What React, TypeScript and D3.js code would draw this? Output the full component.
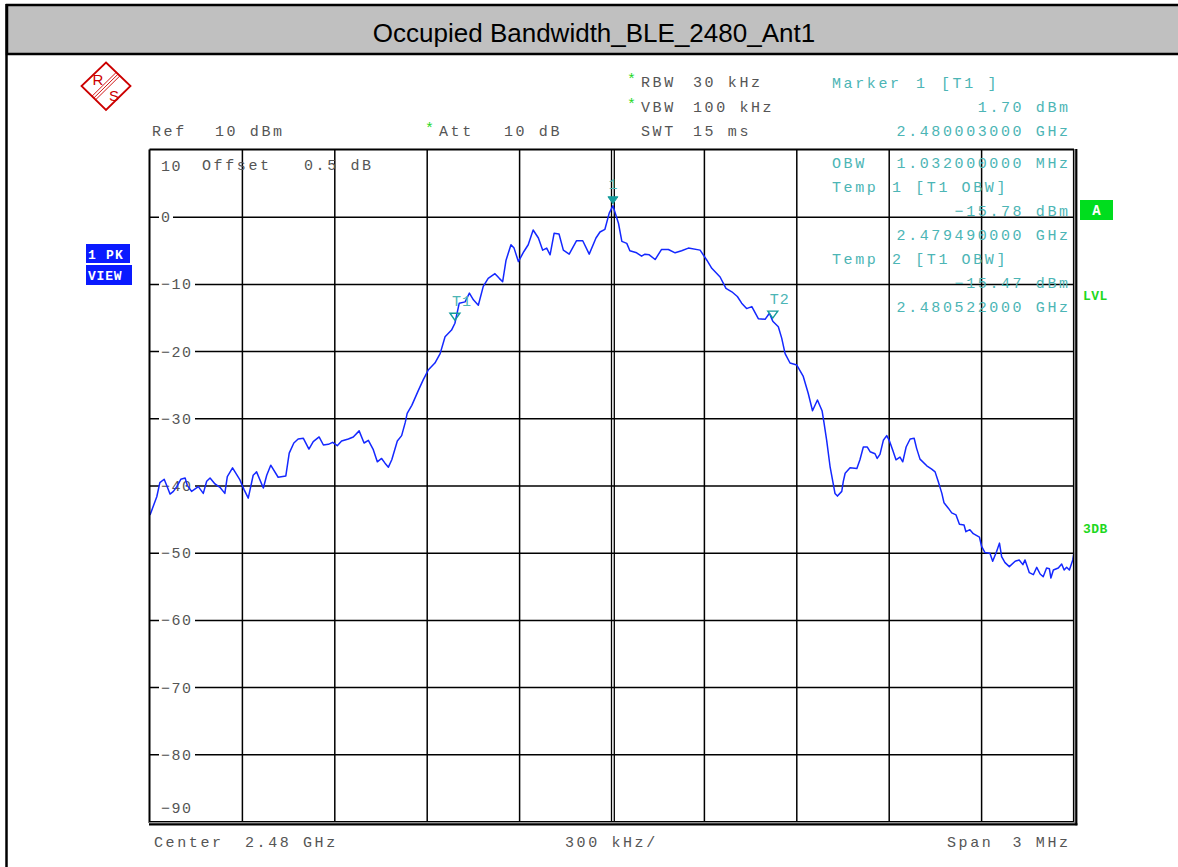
import React from 'react';
import * as d3 from 'd3';

// trace: offset from centre in kHz, level in dBm
const FREQ_KHZ = [
  -1500, -1495, -1478, -1468, -1454, -1446, -1435, -1424, -1413, -1400, -1386, -1379, -1365, -1343,
  -1327, -1316, -1305, -1289, -1273, -1257, -1249, -1232, -1208, -1195, -1181, -1165, -1154, -1132,
  -1121, -1108, -1084, -1059, -1048, -1033, -1019, -1002, -984, -970, -951, -937, -921, -907, -892,
  -878, -856, -840, -821, -805, -791, -775, -762, -748, -737, -726, -715, -697, -683, -671, -665,
  -650, -629, -613, -596, -575, -558, -542, -521, -510, -496, -477, -463, -450, -434, -418, -402,
  -380, -366, -355, -344, -328, -318, -304, -286, -272, -256, -239, -225, -212, -201, -188, -172,
  -158, -139, -115, -95, -74, -52, -39, -23, -9, 3, 21, 32, 48, 58, 80, 96, 107, 121, 140, 161, 183,
  205, 226, 248, 286, 308, 324, 351, 370, 389, 407, 421, 437, 454, 475, 497, 511, 522, 540, 551, 562,
  578, 600, 621, 637, 651, 667, 682, 688, 697, 708, 724, 732, 746, 751, 757, 773, 795, 805, 816, 829,
  838, 854, 861, 870, 881, 892, 900, 911, 922, 935, 944, 955, 968, 981, 989, 1000, 1022, 1038, 1049,
  1059, 1071, 1078, 1092, 1103, 1117, 1128, 1143, 1149, 1162, 1173, 1193, 1200, 1211, 1227, 1236,
  1249, 1258, 1265, 1276, 1290, 1309, 1322, 1334, 1341, 1355, 1368, 1379, 1390, 1400, 1411, 1420,
  1425, 1433, 1449, 1460, 1468, 1476, 1485, 1496, 1500,
];
const LEVEL_DBM = [
  -44.3, -43.7, -41.6, -39.5, -39.0, -39.9, -41.2, -40.8, -40.1, -39.0, -38.8, -39.9, -40.8, -40.1,
  -41.1, -39.3, -38.8, -39.7, -40.2, -41.1, -38.6, -37.3, -39.1, -40.5, -41.8, -38.4, -37.9, -40.3,
  -38.4, -36.9, -38.7, -38.5, -35.1, -33.6, -33.0, -32.9, -34.5, -33.4, -32.7, -33.9, -33.8, -33.5, -34.0,
  -33.3, -33.0, -32.7, -31.8, -33.6, -33.2, -34.6, -36.4, -35.9, -36.6, -37.2, -36.1, -33.3, -32.5, -30.5, -29.2,
  -28.0, -25.8, -24.2, -22.7, -21.7, -20.3, -17.8, -16.8, -15.78, -12.8, -12.6, -11.3, -12.3, -13.1, -10.3, -9.1,
  -8.4, -9.1, -9.6, -6.4, -4.1, -4.6, -6.6, -5.1, -4.1, -1.9, -3.1, -4.9, -4.6, -5.6, -2.4, -2.5,
  -4.9, -5.5, -3.5, -3.5, -5.5, -3.1, -2.2, -1.8, 0.6, 1.7, -0.9, -3.6, -3.9, -5.0, -5.3, -5.8, -5.5, -5.6, -6.3, -4.8, -4.8,
  -5.3, -5.0, -4.6, -4.9, -6.4, -7.6, -8.9, -10.6, -11.1, -11.8, -12.8, -13.6, -13.3, -15.1, -15.2, -14.3, -15.47, -16.3, -18.0, -20.3,
  -21.7, -22.0, -23.7, -26.2, -28.8, -27.2, -28.8, -30.5, -33.2, -37.1, -41.1, -41.5, -40.8, -39.3, -38.1, -37.3, -37.4, -36.1, -34.2, -34.2,
  -34.9, -35.2, -35.9, -35.3, -33.2, -32.5, -33.2, -34.6, -36.1, -35.7, -36.4, -34.2, -33.0, -32.9, -34.4, -36.0, -37.0, -37.5, -37.9,
  -39.3, -41.1, -42.5, -43.3, -44.0, -44.3, -45.7, -45.8, -46.8, -46.5, -47.1, -47.6, -49.0, -49.9, -50.0, -51.2,
  -49.7, -48.5, -50.5, -51.4, -52.0, -51.2, -51.0, -51.7, -51.0, -52.9, -53.2, -52.1, -53.1, -53.5, -52.2, -52.3,
  -53.7, -52.5, -52.2, -51.6, -52.5, -52.1, -52.5, -51.0, -49.9,
];

const Y_TICKS = [0, -10, -20, -30, -40, -50, -60, -70, -80];
const X_GRID_KHZ = [-1500, -1200, -900, -600, -300, 0, 300, 600, 900, 1200, 1500];
const MARKER_LABELS = ['1', 'T1', 'T2'];
const MARKER_KHZ = [3, -510, 522];
const MARKER_DBM = [1.7, -15.78, -15.47];

const MONO = "'Liberation Mono', 'DejaVu Sans Mono', monospace";
const SANS = "'Liberation Sans', Arial, sans-serif";
const GRAY = '#555555';
const CYAN = '#4cb5b5';
const TEAL = '#149c9c';
const GREEN = '#1ed81e';
const BLUE = '#0a1aff';

const T = ({ x, y, children, fill = GRAY, anchor = 'start', size = 15, ls = 2.6, weight = 'normal' }: any) => (
  <text x={x} y={y} fill={fill} fontSize={size} fontFamily={MONO} letterSpacing={ls}
    textAnchor={anchor} fontWeight={weight} style={{ whiteSpace: 'pre' }}>{children}</text>
);

export default function App() {
  const x = d3.scaleLinear().domain([-1500, 1500]).range([150, 1074]);
  const y = d3.scaleLinear().domain([10, -90]).range([150, 822]);
  const pts = FREQ_KHZ.map((f, i) => [f, LEVEL_DBM[i]] as [number, number]);
  const line = d3.line<[number, number]>().x(d => x(d[0])).y(d => y(d[1]));
  const R = 1068 + 2.6;

  return (
    <svg width={1178} height={867} style={{ position: 'absolute', left: 0, top: 0, background: '#fff' }}>
      {/* title bar + frame */}
      <rect x={7} y={5} width={1180} height={49} fill="#c0c0c0" stroke="#000" strokeWidth={2.5} />
      <line x1={6.5} x2={6.5} y1={4} y2={867} stroke="#000" strokeWidth={2.5} />
      <text x={594} y={42} textAnchor="middle" fontFamily={SANS} fontSize={26} fill="#000">
        Occupied Bandwidth_BLE_2480_Ant1
      </text>

      {/* R&S logo */}
      <g stroke="#cc0000" fill="none">
        <path d="M106,62.5 L130.5,86 L106,110 L81.5,86 Z" strokeWidth={1.8} />
        {[-1.8, 0, 1.8].map(o => (
          <line key={o} x1={93.8 + o} y1={98 + o} x2={118.2 + o} y2={74 + o} strokeWidth={0.9} />
        ))}
      </g>
      <text x={98} y={85} textAnchor="middle" fontFamily={SANS} fontSize={15} fill="#cc0000">R</text>
      <text x={114} y={101} textAnchor="middle" fontFamily={SANS} fontSize={15} fill="#cc0000">S</text>

      {/* header settings */}
      <T x={152} y={136}>Ref</T>
      <T x={215} y={136}>10 dBm</T>
      <T x={425} y={133} fill={GREEN} ls={0}>*</T>
      <T x={439} y={136}>Att</T>
      <T x={504} y={136}>10 dB</T>
      <T x={627} y={84} fill={GREEN} ls={0}>*</T>
      <T x={641} y={87}>RBW</T>
      <T x={693} y={87}>30 kHz</T>
      <T x={627} y={109} fill={GREEN} ls={0}>*</T>
      <T x={641} y={112}>VBW</T>
      <T x={693} y={112}>100 kHz</T>
      <T x={641} y={136}>SWT</T>
      <T x={693} y={136}>15 ms</T>

      {/* grid */}
      <g stroke="#000" strokeWidth={1.5}>
        {Y_TICKS.map(t => <line key={t} x1={150} x2={1074} y1={y(t)} y2={y(t)} />)}
        {X_GRID_KHZ.filter(f => f !== 0 && Math.abs(f) < 1500).map(f => (
          <line key={f} x1={x(f)} x2={x(f)} y1={150} y2={822} />
        ))}
        <line x1={x(0) - 0.5} x2={x(0) - 0.5} y1={150} y2={822} strokeWidth={1.3} />
        <line x1={x(0) + 2.3} x2={x(0) + 2.3} y1={150} y2={822} strokeWidth={1.3} />
      </g>

      {/* y labels with white backing */}
      {Y_TICKS.map(t => {
        const s = t === 0 ? '0' : `\u2212${-t}`;
        const w = t === 0 ? 14 : 36;
        return (
          <g key={t}>
            <rect x={159} y={y(t) - 4} width={w} height={8} fill="#fff" />
            <T x={161} y={y(t) + 5} ls={1.5}>{s}</T>
          </g>
        );
      })}
      <T x={161} y={813} ls={1.5}>{'\u221290'}</T>
      <T x={161} y={171} ls={1.5}>10</T>
      <T x={202} y={170}>Offset</T>
      <T x={304} y={170}>0.5 dB</T>

      {/* marker readout */}
      <T x={832} y={88} fill={CYAN}>Marker</T>
      <T x={916} y={88} fill={CYAN}>1</T>
      <T x={941} y={88} fill={CYAN}>[T1 ]</T>
      <T x={R} y={112} fill={CYAN} anchor="end">1.70 dBm</T>
      <T x={R} y={136} fill={CYAN} anchor="end">2.480003000 GHz</T>
      <T x={832} y={168} fill={CYAN}>OBW</T>
      <T x={R} y={168} fill={CYAN} anchor="end">1.032000000 MHz</T>
      <T x={832} y={192} fill={CYAN}>Temp</T>
      <T x={892} y={192} fill={CYAN}>1 [T1 OBW]</T>
      <T x={R} y={216} fill={CYAN} anchor="end">{'\u221215.78 dBm'}</T>
      <T x={R} y={240} fill={CYAN} anchor="end">2.479490000 GHz</T>
      <T x={832} y={264} fill={CYAN}>Temp</T>
      <T x={892} y={264} fill={CYAN}>2 [T1 OBW]</T>
      <T x={R} y={288} fill={CYAN} anchor="end">{'\u221215.47 dBm'}</T>
      <T x={R} y={312} fill={CYAN} anchor="end">2.480522000 GHz</T>

      {/* trace */}
      <path d={line(pts) || ''} fill="none" stroke="#1428ff" strokeWidth={1.5} strokeLinejoin="round" />

      {/* markers */}
      {MARKER_LABELS.map((m, i) => {
        const mx = x(MARKER_KHZ[i]);
        const my = y(MARKER_DBM[i]);
        const filled = m === '1';
        const ay = filled ? my - 2 : my - 3;
        return (
          <g key={m}>
            <path d={`M${mx - 5},${ay - 7} L${mx + 5},${ay - 7} L${mx},${ay} Z`}
              fill={filled ? TEAL : 'none'} stroke={TEAL} strokeWidth={filled ? 1 : 1.4} />
            <T x={filled ? mx : mx - 3} y={my - 17} fill={CYAN} anchor={filled ? 'middle' : 'start'}
              ls={filled ? 0 : 1}>{m}</T>
          </g>
        );
      })}

      {/* plot frame */}
      <g fill="none">
        <line x1={149.5} x2={1074} y1={149.5} y2={149.5} stroke="#000" strokeWidth={2} />
        <line x1={149.5} x2={149.5} y1={149.5} y2={823} stroke="#000" strokeWidth={2} />
        <line x1={1073.5} x2={1073.5} y1={149} y2={822} stroke="#000" strokeWidth={1.2} />
        <line x1={1074.6} x2={1074.6} y1={149} y2={823} stroke="#888" strokeWidth={1} />
        <line x1={1076.3} x2={1076.3} y1={149} y2={825.3} stroke="#000" strokeWidth={2.2} />
        <line x1={149} x2={1074} y1={821.5} y2={821.5} stroke="#000" strokeWidth={1.2} />
        <line x1={149} x2={1075} y1={822.6} y2={822.6} stroke="#888" strokeWidth={1} />
        <line x1={149} x2={1077.4} y1={824.3} y2={824.3} stroke="#000" strokeWidth={2.2} />
      </g>

      {/* left trace badges */}
      <rect x={86} y={244} width={44} height={19} fill={BLUE} />
      <T x={88} y={258.5} fill="#fff" size={13} ls={1.2} weight="bold">1 PK</T>
      <rect x={86} y={265} width={46} height={20} fill={BLUE} />
      <T x={88} y={279.5} fill="#fff" size={13} ls={0.8} weight="bold">VIEW</T>

      {/* right side flags */}
      <rect x={1080} y={200} width={33} height={20} fill="#00dd1e" />
      <T x={1096.5} y={215} fill="#fff" size={14} ls={0} weight="bold" anchor="middle">A</T>
      <T x={1083} y={300} fill={GREEN} size={13} ls={0.5} weight="bold">LVL</T>
      <T x={1083} y={533} fill={GREEN} size={13} ls={0.5} weight="bold">3DB</T>

      {/* bottom */}
      <T x={154} y={847}>Center</T>
      <T x={245} y={847}>2.48 GHz</T>
      <T x={565} y={847}>300 kHz/</T>
      <T x={947} y={847}>Span</T>
      <T x={R} y={847} anchor="end">3 MHz</T>
    </svg>
  );
}
